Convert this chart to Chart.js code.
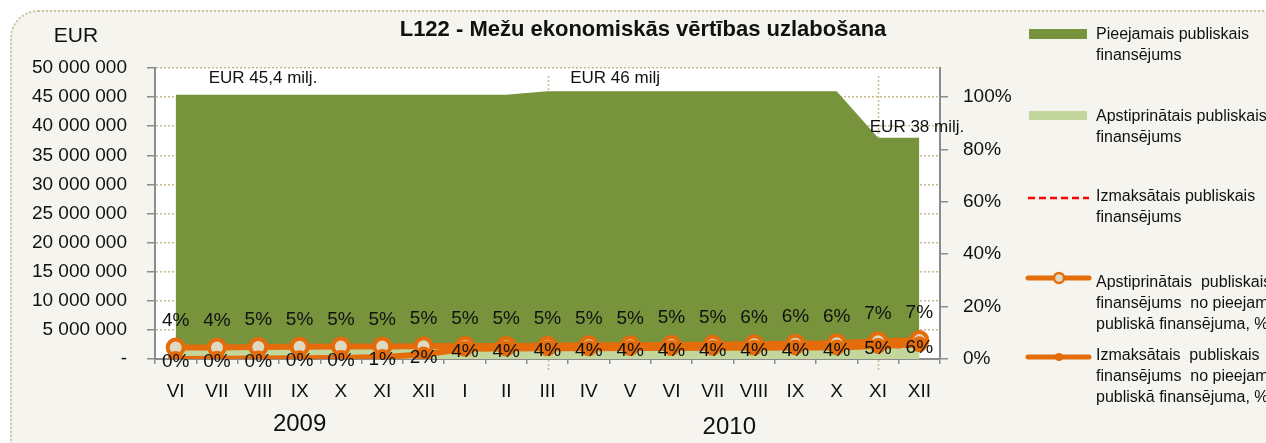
<!DOCTYPE html>
<html>
<head>
<meta charset="utf-8">
<script src="https://cdn.jsdelivr.net/npm/chart.js@4.4.0/dist/chart.umd.min.js"></script>
<style>
  body { margin: 0; background: #ffffff; overflow: hidden; }
  #frame {
    position: absolute; left: 10px; top: 10px; width: 1290px; height: 460px;
    border: 2px dotted #cfc59c; border-radius: 28px; background: #f5f4ef;
  }
  #wrap { position: absolute; left: 0; top: 0; width: 1266px; height: 443px; }
</style>
</head>
<body>
<div id="frame"></div>
<div id="wrap"><canvas id="chart" width="1266" height="443"></canvas></div>
<script>
// months on the x axis (VI.2009 - XII.2010)
const months = ["VI", "VII", "VIII", "IX", "X", "XI", "XII", "I", "II", "III", "IV", "V", "VI", "VII", "VIII", "IX", "X", "XI", "XII"];
const years = ["2009", "2010"];

// EUR
const available = [45400000, 45400000, 45400000, 45400000, 45400000, 45400000, 45400000, 45400000, 45400000, 46000000,
  46000000, 46000000, 46000000, 46000000, 46000000, 46000000, 46000000, 38000000, 38000000];
const approved = [1900000, 1950000, 2050000, 2100000, 2100000, 2150000, 2200000, 2250000, 2250000, 2300000,
  2350000, 2350000, 2400000, 2450000, 2550000, 2650000, 2700000, 2600000, 2700000];
const paid = [0, 50000, 100000, 150000, 200000, 400000, 800000, 1750000, 1800000, 1850000,
  1900000, 1900000, 1950000, 1950000, 2000000, 2000000, 2050000, 1900000, 2150000];

// % of available
const approvedPct = [4.4, 4.4, 4.6, 4.7, 4.8, 4.8, 4.9, 5.0, 5.0, 5.1, 5.2, 5.2, 5.3, 5.4, 5.6, 5.8, 6.0, 6.8, 7.2];
const paidPct = [0.0, 0.1, 0.2, 0.3, 0.4, 0.8, 1.7, 3.9, 4.0, 4.1, 4.1, 4.2, 4.2, 4.3, 4.3, 4.4, 4.4, 5.0, 5.6];

const leftTicks = [0, 5000000, 10000000, 15000000, 20000000, 25000000, 30000000, 35000000, 40000000, 45000000, 50000000];
const rightTicks = [0, 20, 40, 60, 80, 100];

const legendText = [
  ["Pieejamais publiskais", "finansējums"],
  ["Apstiprinātais publiskais", "finansējums"],
  ["Izmaksātais publiskais", "finansējums"],
  ["Apstiprinātais  publiskais", "finansējums  no pieejamā", "publiskā finansējuma, %"],
  ["Izmaksātais  publiskais", "finansējums  no pieejamā", "publiskā finansējuma, %"]
];

const FONT = "'Liberation Sans', Arial, sans-serif";
const DARK_GREEN = "#77933c";
const LIGHT_GREEN = "#c3d69b";
const ORANGE = "#e46c0a";
const GRID = "#c9bd8e";

function fmtEur(v) {
  if (v === 0) return "-";
  return String(v).replace(/\B(?=(\d{3})+(?!\d))/g, " ");
}

// white plot area, vertical markers, titles, labels and legend
const decorPlugin = {
  id: "decor",
  beforeDraw(chart) {
    const { ctx, chartArea: a } = chart;
    ctx.save();
    ctx.fillStyle = "#ffffff";
    ctx.fillRect(a.left, a.top, a.right - a.left, a.bottom - a.top);
    ctx.restore();
  },
  beforeDatasetsDraw(chart) {
    const { ctx, scales } = chart;
    ctx.save();
    ctx.strokeStyle = GRID;
    ctx.lineWidth = 1.5;
    ctx.setLineDash([2, 2]);
    [9, 17].forEach((i) => {
      const x = Math.round(scales.x.getPixelForValue(i)) + 0.5;
      ctx.beginPath();
      ctx.moveTo(x, 76);
      ctx.lineTo(x, 371);
      ctx.stroke();
    });
    ctx.restore();
  },
  afterDatasetsDraw(chart) {
    const { ctx, scales } = chart;
    ctx.save();
    // percent labels
    ctx.fillStyle = "#111";
    ctx.font = "19px " + FONT;
    ctx.textAlign = "center";
    ctx.textBaseline = "middle";
    const mA = chart.getDatasetMeta(3);
    const mP = chart.getDatasetMeta(4);
    approvedPct.forEach((v, i) => {
      const p = mA.data[i];
      ctx.fillText(Math.round(v) + "%", p.x, p.y - 27);
    });
    paidPct.forEach((v, i) => {
      const p = mP.data[i];
      ctx.fillText(Math.round(v) + "%", p.x, p.y + 3);
    });

    // annotations
    ctx.textAlign = "left";
    ctx.font = "17px " + FONT;
    ctx.fillText("EUR 45,4 milj.", scales.x.getPixelForValue(0.8), scales.y.getPixelForValue(48300000));
    ctx.fillText("EUR 46 milj", scales.x.getPixelForValue(9.55), scales.y.getPixelForValue(48300000));
    ctx.fillText("EUR 38 milj.", scales.x.getPixelForValue(16.8), scales.y.getPixelForValue(39800000));

    // years
    ctx.textAlign = "center";
    ctx.font = "24px " + FONT;
    ctx.fillText(years[0], scales.x.getPixelForValue(3), 424);
    ctx.fillText(years[1], scales.x.getPixelForValue(13.4), 427);

    // title and unit
    ctx.font = "bold 22px " + FONT;
    ctx.fillText("L122 - Mežu ekonomiskās vērtības uzlabošana", 643, 30);
    ctx.font = "21px " + FONT;
    ctx.fillText("EUR", 76, 36);

    // legend
    const lx = 1028, tx = 1096, lh = 21;
    const rows = [35, 117, 197, 283, 356];
    ctx.textAlign = "left";
    ctx.font = "16px " + FONT;
    legendText.forEach((lines, k) => {
      lines.forEach((t, j) => ctx.fillText(t, tx, rows[k] + j * lh));
    });
    ctx.fillStyle = DARK_GREEN;
    ctx.fillRect(lx + 1, 29, 58, 10);
    ctx.fillStyle = LIGHT_GREEN;
    ctx.fillRect(lx + 1, 111, 58, 9);
    ctx.strokeStyle = "#ff0000";
    ctx.lineWidth = 2.5;
    ctx.setLineDash([7, 4]);
    ctx.beginPath(); ctx.moveTo(lx, 198); ctx.lineTo(lx + 61, 198); ctx.stroke();
    ctx.setLineDash([]);
    ctx.strokeStyle = ORANGE;
    ctx.lineWidth = 5;
    ctx.lineCap = "round";
    ctx.beginPath(); ctx.moveTo(lx, 278); ctx.lineTo(lx + 61, 278); ctx.stroke();
    ctx.beginPath(); ctx.moveTo(lx, 357); ctx.lineTo(lx + 61, 357); ctx.stroke();
    ctx.lineWidth = 2.5;
    ctx.fillStyle = "#ddd9c3";
    ctx.beginPath(); ctx.arc(lx + 31, 278, 5, 0, Math.PI * 2); ctx.fill(); ctx.stroke();
    ctx.fillStyle = ORANGE;
    ctx.beginPath(); ctx.arc(lx + 31, 357, 4, 0, Math.PI * 2); ctx.fill();
    ctx.restore();
  }
};

const ctx = document.getElementById("chart").getContext("2d");
new Chart(ctx, {
  type: "line",
  data: {
    labels: months,
    datasets: [
      {
        label: legendText[0].join(" "),
        data: available,
        yAxisID: "y",
        backgroundColor: DARK_GREEN,
        borderColor: DARK_GREEN,
        borderWidth: 0,
        fill: "origin",
        pointRadius: 0,
        order: 5
      },
      {
        label: legendText[1].join(" "),
        data: approved,
        yAxisID: "y",
        backgroundColor: LIGHT_GREEN,
        borderColor: LIGHT_GREEN,
        borderWidth: 0,
        fill: "origin",
        pointRadius: 0,
        order: 4
      },
      {
        label: legendText[2].join(" "),
        data: paid,
        yAxisID: "y",
        borderColor: "#ff0000",
        borderWidth: 2,
        borderDash: [6, 4],
        fill: false,
        pointRadius: 0,
        order: 3
      },
      {
        label: legendText[3].join(" "),
        data: approvedPct,
        yAxisID: "y1",
        borderColor: ORANGE,
        borderWidth: 6,
        fill: false,
        pointRadius: 8,
        pointBorderWidth: 4,
        pointBorderColor: ORANGE,
        pointBackgroundColor: "#ddd9c3",
        order: 2
      },
      {
        label: legendText[4].join(" "),
        data: paidPct,
        yAxisID: "y1",
        borderColor: ORANGE,
        borderWidth: 6,
        fill: false,
        pointRadius: 8,
        pointBorderWidth: 0,
        pointBackgroundColor: ORANGE,
        order: 1
      }
    ]
  },
  options: {
    responsive: false,
    animation: false,
    layout: { padding: { top: 68, right: 246, bottom: 0, left: 0 } },
    plugins: {
      legend: { display: false },
      tooltip: { enabled: false }
    },
    scales: {
      x: {
        offset: true,
        grid: { drawOnChartArea: false, offset: true, tickLength: 5, color: "#8c8c8c", lineWidth: 1.5 },
        border: { color: "#8c8c8c", width: 2 },
        ticks: { color: "#111", font: { family: FONT, size: 19 }, padding: 16, maxRotation: 0, autoSkip: false },
        afterFit(s) { s.height = 84; }
      },
      y: {
        position: "left",
        min: 0,
        max: 50000000,
        afterBuildTicks(s) { s.ticks = leftTicks.map((v) => ({ value: v })); },
        grid: {
          color: GRID,
          lineWidth: 1.5,
          tickLength: 8,
          tickColor: "#8c8c8c",
          tickBorderDash: []
        },
        border: { color: "#8c8c8c", width: 2, dash: [2, 2] },
        ticks: {
          color: "#111",
          font: { family: FONT, size: 19 },
          padding: 20,
          callback: (v) => fmtEur(v)
        },
        afterFit(s) { s.width = 155; }
      },
      y1: {
        position: "right",
        min: 0,
        max: 111,
        afterBuildTicks(s) { s.ticks = rightTicks.map((v) => ({ value: v })); },
        grid: { drawOnChartArea: false, tickLength: 8, color: "#8c8c8c", lineWidth: 1.5 },
        border: { color: "#8c8c8c", width: 2 },
        ticks: {
          color: "#111",
          font: { family: FONT, size: 19 },
          padding: 15,
          callback: (v) => v + "%"
        },
        afterFit(s) { s.width = 80; }
      }
    }
  },
  plugins: [decorPlugin]
});
</script>
</body>
</html>
